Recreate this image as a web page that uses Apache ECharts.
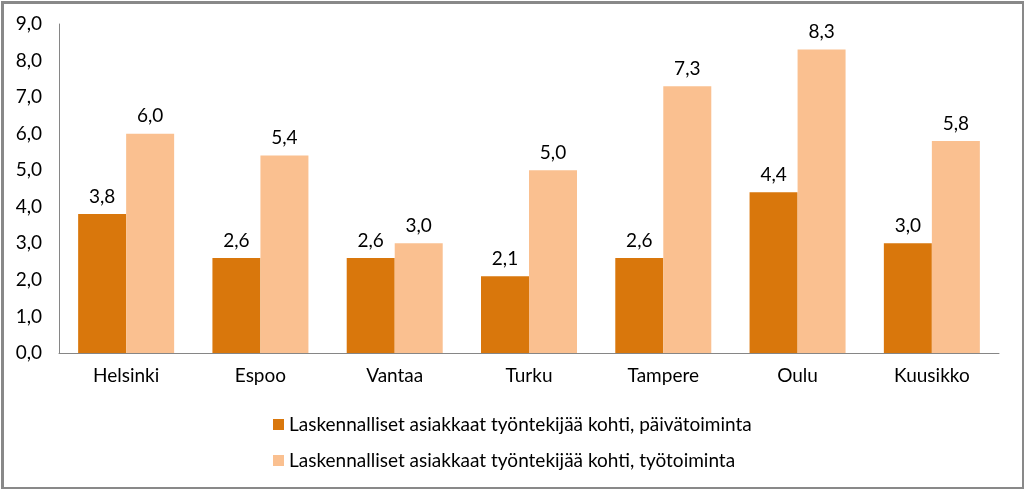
<!DOCTYPE html>
<html><head><meta charset="utf-8">
<script src="https://cdn.jsdelivr.net/npm/echarts@6/dist/echarts.min.js"></script>
<style>html,body{margin:0;padding:0;background:#fff}#c{width:1024px;height:489px}</style>
</head><body><div id="c"></div>
<script>
const categories = ['Helsinki','Espoo','Vantaa','Turku','Tampere','Oulu','Kuusikko'];
const seriesNames = ['Laskennalliset asiakkaat työntekijää kohti, päivätoiminta','Laskennalliset asiakkaat työntekijää kohti, työtoiminta'];
const paivatoiminta = [3.8, 2.6, 2.6, 2.1, 2.6, 4.4, 3.0];
const tyotoiminta = [6.0, 5.4, 3.0, 5.0, 7.3, 8.3, 5.8];
const yTicks = {min:0, max:9, interval:1};

const font = 'Lato';
const fs = 19;
const fmt = v => v.toFixed(1).replace('.', ',');
const chart = echarts.init(document.getElementById('c'));
chart.setOption({
  animation:false,
  backgroundColor:'#fff',
  textStyle:{fontFamily:font},
  grid:{left:59, right:25, top:24, bottom:136, containLabel:false},
  xAxis:{type:'category', data:categories,
    axisLine:{lineStyle:{color:'#868686'}}, axisTick:{show:false},
    axisLabel:{color:'#000', fontSize:fs, fontFamily:font, margin:13}},
  yAxis:{type:'value', min:yTicks.min, max:yTicks.max, interval:yTicks.interval,
    splitLine:{show:false}, axisLine:{show:true, lineStyle:{color:'#868686'}}, axisTick:{show:false},
    axisLabel:{color:'#000', fontSize:fs, fontFamily:font, margin:17, formatter:fmt}},
  legend:{orient:'vertical', left:268, top:410, itemWidth:11, itemHeight:11, itemGap:17,
    icon:'rect', textStyle:{fontSize:fs, color:'#000', fontFamily:font}},
  series:[
    {name:seriesNames[0], type:'bar', data:paivatoiminta, barWidth:48, barGap:'0%', itemStyle:{color:'#D9770C'},
     label:{show:true, position:'top', distance:8, color:'#000', fontSize:fs, fontFamily:font, formatter:p=>fmt(p.value)}},
    {name:seriesNames[1], type:'bar', data:tyotoiminta, barWidth:48, itemStyle:{color:'#FAC090'},
     label:{show:true, position:'top', distance:8, color:'#000', fontSize:fs, fontFamily:font, formatter:p=>fmt(p.value)}}
  ],
  graphic:[{type:'rect', left:0, top:0, shape:{x:1, y:1, width:1021, height:486}, style:{fill:'none', stroke:'#898989', lineWidth:3}, silent:true}]
});
</script></body></html>
